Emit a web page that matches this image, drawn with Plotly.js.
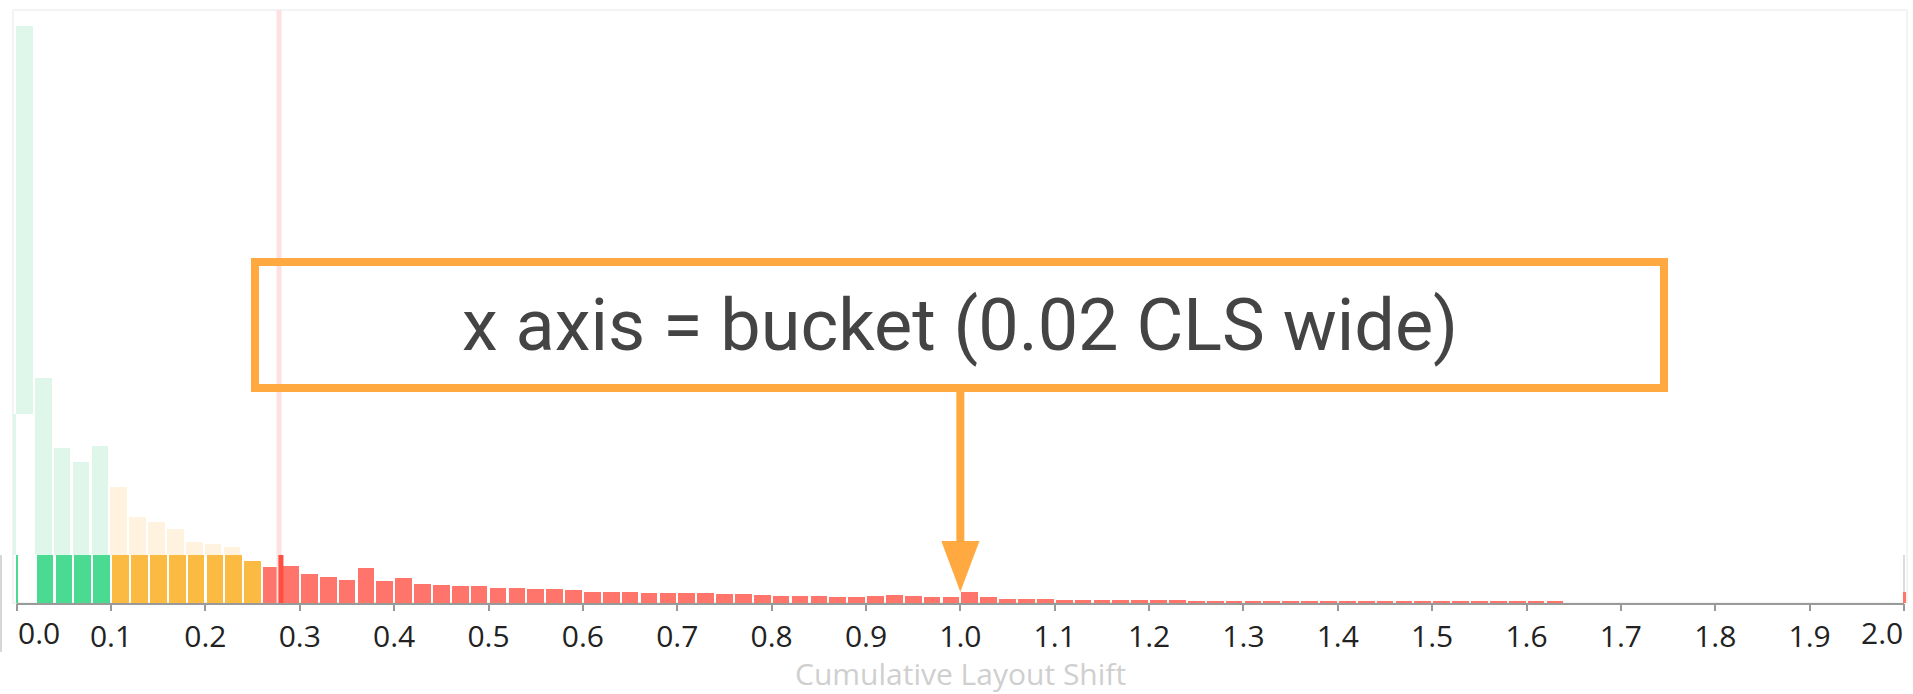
<!DOCTYPE html>
<html>
<head>
<meta charset="utf-8">
<script src="https://cdn.plot.ly/plotly-3.0.1.min.js"></script>
<style>
html,body{margin:0;padding:0;background:#fff;overflow:hidden}
#chart{width:1913px;height:694px}
</style>
</head>
<body>
<div id="chart"></div>
<script>
// ---------- DATA ----------
// bucket start (CLS), 0.02 wide; last bucket = 2.0 and above
const bucketStarts = [
  0.00,0.02,0.04,0.06,0.08,0.10,0.12,0.14,0.16,0.18,
  0.20,0.22,0.24,0.26,0.28,0.30,0.32,0.34,0.36,0.38,
  0.40,0.42,0.44,0.46,0.48,0.50,0.52,0.54,0.56,0.58,
  0.60,0.62,0.64,0.66,0.68,0.70,0.72,0.74,0.76,0.78,
  0.80,0.82,0.84,0.86,0.88,0.90,0.92,0.94,0.96,0.98,
  1.00,1.02,1.04,1.06,1.08,1.10,1.12,1.14,1.16,1.18,
  1.20,1.22,1.24,1.26,1.28,1.30,1.32,1.34,1.36,1.38,
  1.40,1.42,1.44,1.46,1.48,1.50,1.52,1.54,1.56,1.58,
  1.60,1.62,1.64,1.66,1.68,1.70,1.72,1.74,1.76,1.78,
  1.80,1.82,1.84,1.86,1.88,1.90,1.92,1.94,1.96,1.98,
  2.00
];
// relative share of page loads per bucket (arbitrary units)
const shares = [
  577,224.7,155.3,141.3,157.3,116,86.3,81.3,73.7,61.3,
  58.7,55.7,41.7,36.3,37,29.5,26,23.3,35,22.3,
  25,19,18,17.3,17.3,15,15,13.7,13.7,13.3,
  11,11,10.7,10.3,9.7,9.7,10.3,8.7,8.7,7.7,
  7,7,6.7,6,6,7,7.7,7,5.7,6,
  11,6,4.3,4.3,4,3.3,3.3,2.7,2.7,2.7,
  2.7,2.7,2.2,2.2,2.2,2.2,2.2,2.2,2.2,2.1,
  2.1,2,2,2,1.9,1.9,1.9,1.8,1.8,1.8,
  1.7,1.7,0.3,0.3,0.2,0.2,0.2,0.2,0.2,0.2,
  0.2,0.2,0.2,0.2,0.2,0.2,0.2,0.2,0.2,0.2,
  11.3
];
const solidCap = 48;      // bars are shown solid up to this level, faded above
const zeroGap = 189;      // gap under the first (zero) bucket's faded bar
const thresholds = [0.1, 0.25];
const markerValue = 0.278; // 75th percentile marker
const tickVals = [0.0,0.1,0.2,0.3,0.4,0.5,0.6,0.7,0.8,0.9,1.0,1.1,1.2,1.3,1.4,1.5,1.6,1.7,1.8,1.9,2.0];
const tickLabels = ['0.0','0.1','0.2','0.3','0.4','0.5','0.6','0.7','0.8','0.9','1.0','1.1','1.2','1.3','1.4','1.5','1.6','1.7','1.8','1.9','2.0'];
const axisTitle = 'Cumulative Layout Shift';
const noteText = 'x axis = bucket (0.02 CLS wide)';
const noteBucket = 1.0;

// ---------- STYLE ----------
const solidColors = ['#4bda91', '#fbba41', '#ff756c'];
const fadedColors = ['#dff7eb', '#fff3e0', '#ffe3e0'];
const ORANGE = '#ffa940';
const L = 13, R = 6, T = 10, B = 91, WIDTH = 1913, HEIGHT = 694;
const PW = WIDTH - L - R, PH = HEIGHT - T - B;
const X = px => (px - L) / PW;
const Y = py => (HEIGHT - B - py) / PH;

const cls = s => s < thresholds[0] ? 0 : (s < thresholds[1] ? 1 : 2);
const last = bucketStarts.length - 1;
const BW = 0.0177;

// solid layer
const solidY = shares.map((v, i) => i === 0 ? solidCap : Math.min(v, solidCap));
const solidW = bucketStarts.map((s, i) => i === 0 ? 0.0024 : (i === last ? 0.0027 : BW));
const solidO = bucketStarts.map((s, i) => i === 0 ? -0.0007 : (i === last ? -0.0007 : 0.0012));
const solidC = bucketStarts.map(s => solidColors[cls(s)]);

// faded layer (the part above the solid cap)
const fadedBase = shares.map((v, i) => i === 0 ? zeroGap : solidCap);
const fadedY = shares.map((v, i) => Math.max(0, v - fadedBase[i]));
const fadedC = bucketStarts.map(s => fadedColors[cls(s)]);

const traces = [
  {
    type: 'bar', x: bucketStarts, y: fadedY, base: fadedBase,
    width: BW, offset: -0.0007,
    marker: {color: fadedC, line: {width: 0}}, hoverinfo: 'skip', showlegend: false
  },
  {
    type: 'bar', x: [bucketStarts[0]], y: [zeroGap - solidCap], base: [solidCap],
    width: 0.003, offset: -0.0037,
    marker: {color: fadedColors[0], line: {width: 0}}, hoverinfo: 'skip', showlegend: false
  },
  {
    type: 'bar', x: bucketStarts, y: solidY,
    width: solidW, offset: solidO,
    marker: {color: solidC, line: {width: 0}}, hoverinfo: 'x+y', showlegend: false
  }
];

const shapes = [
  {type: 'rect', xref: 'paper', yref: 'paper', x0: 0, x1: 1, y0: 0, y1: 1,
   line: {color: '#f3f3f3', width: 2}, layer: 'below'},
  {type: 'line', xref: 'x', yref: 'paper', x0: tickVals[tickVals.length-1], x1: tickVals[tickVals.length-1],
   y0: 0, y1: Y(555), line: {color: '#dcdcdc', width: 2}, layer: 'below'},
  {type: 'line', xref: 'paper', yref: 'paper', x0: X(1), x1: X(1), y0: Y(652), y1: Y(555),
   line: {color: '#d6d6d6', width: 2}},
  {type: 'line', xref: 'x', yref: 'paper', x0: markerValue, x1: markerValue, y0: 0, y1: 1,
   line: {color: '#fde0e0', width: 5}},
  {type: 'line', xref: 'x', yref: 'y', x0: markerValue + 0.002, x1: markerValue + 0.002, y0: 0, y1: solidCap,
   line: {color: '#ff4e42', width: 5}},
  {type: 'line', xref: 'x', yref: 'paper', x0: tickVals[0], x1: tickVals[tickVals.length-1], y0: Y(604), y1: Y(604),
   line: {color: '#9a9a9a', width: 2}},
  {type: 'rect', xref: 'paper', yref: 'paper', x0: X(255), x1: X(1664), y0: Y(388), y1: Y(262),
   line: {color: ORANGE, width: 8}, fillcolor: 'rgba(0,0,0,0)'},
  {type: 'line', xref: 'x', yref: 'paper', x0: noteBucket, x1: noteBucket, y0: Y(390), y1: Y(544),
   line: {color: ORANGE, width: 8}},
  {type: 'path', xref: 'x', yref: 'paper',
   path: 'M' + (noteBucket - 0.0202) + ',' + Y(541) + ' L' + (noteBucket + 0.0202) + ',' + Y(541) +
         ' L' + noteBucket + ',' + Y(592) + ' Z',
   fillcolor: ORANGE, line: {width: 0}}
];

const tickFont = {family: '"Open Sans", "Noto Sans", sans-serif', size: 30, color: '#222'};

const annotations = [
  {xref: 'paper', yref: 'paper', x: X(959.5), y: Y(325), xanchor: 'center', yanchor: 'middle',
   text: noteText, showarrow: false,
   font: {family: 'Roboto, sans-serif', size: 72, color: '#444'}},
  {xref: 'x', yref: 'paper', x: tickVals[0], y: Y(632), xanchor: 'left', yanchor: 'middle',
   text: tickLabels[0], showarrow: false, borderpad: 0, font: tickFont},
  {xref: 'x', yref: 'paper', x: tickVals[tickVals.length-1], y: Y(632), xanchor: 'right', yanchor: 'middle',
   text: tickLabels[tickLabels.length-1], showarrow: false, borderpad: 0, font: tickFont},
  // x axis title
  {xref: 'paper', yref: 'paper', x: X(960), y: Y(673.5), xanchor: 'center', yanchor: 'middle',
   text: axisTitle, showarrow: false, borderpad: 0,
   font: {family: '"Open Sans", sans-serif', size: 30, color: '#cfcfcf'}}
];

const layout = {
  width: WIDTH, height: HEIGHT,
  margin: {l: L, r: R, t: T, b: B, pad: 0},
  paper_bgcolor: '#fff', plot_bgcolor: '#fff',
  barmode: 'overlay', bargap: 0,
  showlegend: false,
  xaxis: {
    range: [-(16.7 - L) / 943.7, 2 + (WIDTH - R - 1904) / 943.7],
    tickvals: tickVals,
    ticktext: tickLabels.map((t, i) => (i === 0 || i === tickLabels.length - 1) ? '' : t),
    ticks: 'outside', ticklen: 7, tickwidth: 2, tickcolor: '#999',
    showline: false, showgrid: false, zeroline: false,
    tickfont: tickFont,
    fixedrange: true
  },
  yaxis: {range: [0, PH], visible: false, fixedrange: true},
  shapes: shapes,
  annotations: annotations
};

Plotly.newPlot('chart', traces, layout, {displayModeBar: false, staticPlot: true});
</script>
</body>
</html>
